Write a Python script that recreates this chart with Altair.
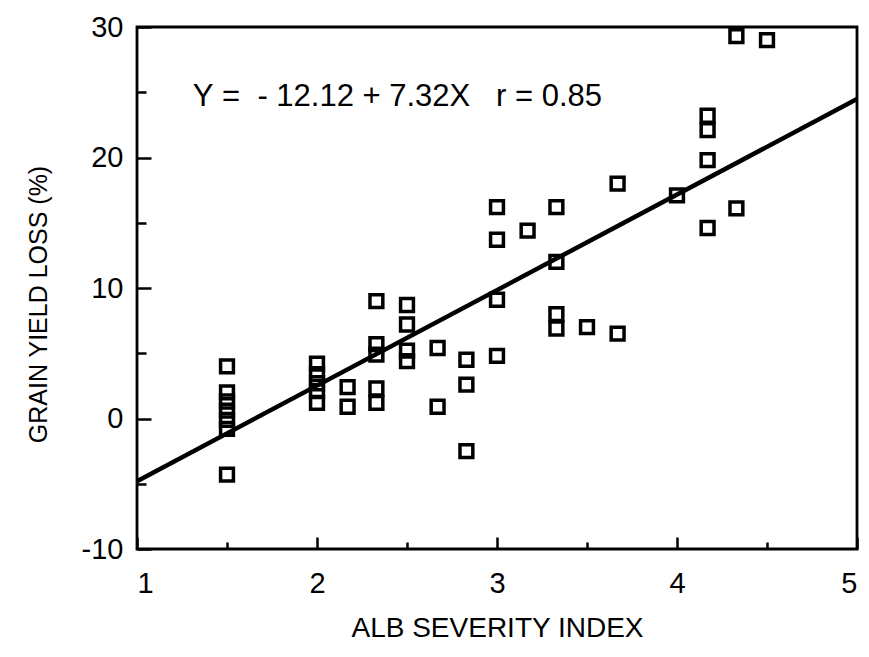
import altair as alt
import pandas as pd

# ---- data ----
severity = [1.5, 1.5, 1.5, 1.5, 1.5, 1.5, 1.5,
            2.0, 2.0, 2.0, 2.0, 2.0,
            2.17, 2.17,
            2.33, 2.33, 2.33, 2.33, 2.33,
            2.5, 2.5, 2.5, 2.5,
            2.67, 2.67,
            2.83, 2.83, 2.83,
            3.0, 3.0, 3.0, 3.0,
            3.17,
            3.33, 3.33, 3.33, 3.33,
            3.5,
            3.67, 3.67,
            4.0,
            4.17, 4.17, 4.17, 4.17,
            4.33, 4.33,
            4.5]
loss = [4.0, 2.0, 1.3, 0.6, -0.1, -0.8, -4.3,
        4.2, 3.4, 2.7, 2.1, 1.2,
        2.4, 0.9,
        9.0, 5.7, 4.9, 2.3, 1.2,
        8.7, 7.2, 5.2, 4.4,
        5.4, 0.9,
        4.5, 2.6, -2.5,
        16.2, 13.7, 9.1, 4.8,
        14.4,
        16.2, 12.0, 8.0, 6.9,
        7.0,
        18.0, 6.5,
        17.1,
        23.2, 22.1, 19.8, 14.6,
        29.3, 16.1,
        29.0]

intercept = -12.12
slope = 7.32
line_x = [1, 5]
NB = "\u00a0"
equation_text = ["Y" + NB + "=" + NB * 2 + "-" + NB + "12.12" + NB + "+" + NB + "7.32X"
                 + NB * 3 + "r" + NB + "=" + NB + "0.85"]
equation_pos = [[1.31, 24.6]]

x_major = [1, 2, 3, 4, 5]
x_minor = [1.5, 2.5, 3.5, 4.5]
y_major = [-10, 0, 10, 20, 30]
y_minor = [-5, 5, 15, 25]

x_title = "ALB SEVERITY INDEX"
y_title = "GRAIN YIELD LOSS (%)"

FONT = "Liberation Sans"
W, H = 720, 522

pts = pd.DataFrame({"x": severity, "y": loss})
line_df = pd.DataFrame({"x": line_x, "y": [intercept + slope * v for v in line_x]})
txt_df = pd.DataFrame({"x": [p[0] for p in equation_pos],
                       "y": [p[1] for p in equation_pos],
                       "t": equation_text})

xs = alt.Scale(domain=[1, 5], nice=False, zero=False)
ys = alt.Scale(domain=[-10, 30], nice=False, zero=False)

common = dict(grid=False, domain=False, labelFont=FONT, titleFont=FONT,
              labelColor="black", titleColor="black", tickColor="black")

# layer 1: points + label axes
points = alt.Chart(pts).mark_point(
    shape="square", filled=False, size=165, strokeWidth=3.5, color="black", opacity=1
).encode(
    x=alt.X("x:Q", scale=xs, axis=alt.Axis(
        orient="bottom", values=x_major, ticks=False, labelExpr="'' + datum.value",
        labelFontSize=29, labelPadding=20, title=x_title, titleFontSize=28,
        titleFontWeight="normal", titlePadding=16, **common)),
    y=alt.Y("y:Q", scale=ys, axis=alt.Axis(
        orient="left", values=y_major, ticks=False, labelExpr="'' + datum.value",
        labelFontSize=29, labelPadding=14, title=y_title, titleFontSize=25,
        titleFontWeight="normal", titlePadding=30, titleY=277, **common)),
)

# layer 2: regression line + major inward ticks
reg = alt.Chart(line_df).mark_line(color="black", strokeWidth=4.5).encode(
    x=alt.X("x:Q", scale=xs, axis=alt.Axis(
        orient="top", offset=-H, values=x_major, labels=False, title=None,
        tickSize=12, tickWidth=2.5, **common)),
    y=alt.Y("y:Q", scale=ys, axis=alt.Axis(
        orient="right", offset=-W, values=y_major, labels=False, title=None,
        tickSize=14, tickWidth=2.5, **common)),
)

# layer 3: equation text + minor inward ticks
eq = alt.Chart(txt_df).mark_text(
    align="left", baseline="middle", font=FONT, fontSize=31, color="black"
).encode(
    x=alt.X("x:Q", scale=xs, axis=alt.Axis(
        orient="top", offset=-H, values=x_minor, labels=False, title=None,
        tickSize=7, tickWidth=2.5, **common)),
    y=alt.Y("y:Q", scale=ys, axis=alt.Axis(
        orient="right", offset=-W, values=y_minor, labels=False, title=None,
        tickSize=9, tickWidth=2.5, **common)),
    text="t:N",
)

chart = alt.layer(points, reg, eq).resolve_scale(
    x="independent", y="independent"
).properties(
    width=W, height=H,
    autosize="none",
    padding={"left": 129, "top": 19, "right": 4, "bottom": 94},
    background="white",
).configure_view(stroke="black", strokeWidth=2.8)

chart.save("out.html", embed_options={"renderer": "svg", "actions": False})
